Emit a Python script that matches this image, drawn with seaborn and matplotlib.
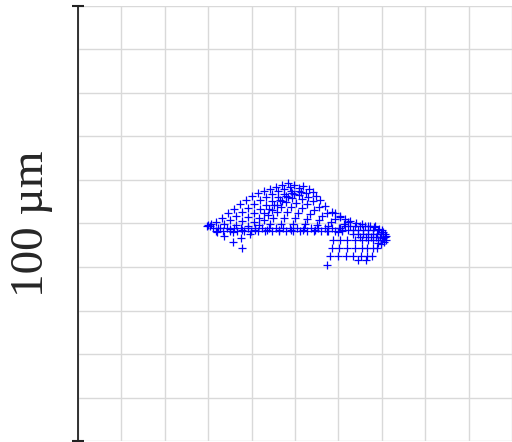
import numpy as np
import pandas as pd
import matplotlib
matplotlib.use("Agg")
import matplotlib.pyplot as plt
import seaborn as sns

# ---- data (µm) ----
# surface arcs (bottom -> top)
arc1_x = [30.4, 31.8, 33.2, 34.6, 35.9, 37.3, 38.7, 40.1, 41.5, 42.9, 44.2, 45.6, 47.0, 48.4]
arc1_y = [49.4, 50.3, 51.3, 52.4, 53.3, 54.5, 55.4, 56.3, 57.0, 57.5, 57.9, 58.4, 58.9, 59.3]
arc2_x = [32.3, 33.6, 35.0, 36.4, 37.8, 39.2, 40.6, 41.9, 43.3, 44.7, 46.1, 47.5, 48.8, 49.8]
arc2_y = [49.0, 49.9, 50.8, 51.7, 52.6, 53.6, 54.5, 55.4, 56.1, 56.8, 57.5, 57.9, 58.4, 58.9]
arc3_x = [35.0, 36.4, 37.8, 39.2, 40.6, 41.9, 43.3, 44.7, 46.1, 47.5, 49.1, 50.9]
arc3_y = [48.7, 49.7, 50.6, 51.5, 52.4, 53.3, 54.3, 55.2, 56.1, 56.8, 57.5, 58.2]
arc4_x = [37.8, 39.2, 40.6, 41.7, 42.9, 44.0, 45.2, 46.5, 47.9, 49.3, 50.9, 51.8]
arc4_y = [48.5, 49.4, 50.3, 51.3, 52.4, 53.3, 54.3, 55.4, 56.3, 57.0, 57.5, 58.6]
arc5_x = [40.8, 41.7, 42.9, 43.8, 44.7, 45.8, 47.0, 48.4, 49.8, 51.4, 53.2]
arc5_y = [48.5, 49.7, 50.8, 52.0, 53.1, 54.3, 55.2, 56.1, 56.8, 57.2, 57.9]
arc6_x = [43.5, 44.2, 44.9, 45.8, 46.8, 47.9, 49.3, 50.9, 52.5, 54.1]
arc6_y = [48.5, 49.9, 51.3, 52.6, 53.8, 54.9, 55.9, 56.6, 57.0, 57.2]
arc7_x = [46.3, 46.8, 47.5, 48.2, 49.1, 50.2, 51.6, 53.0, 54.8]
arc7_y = [48.5, 49.9, 51.3, 52.6, 53.8, 54.7, 55.6, 56.1, 56.3]
arc8_x = [49.1, 49.5, 50.0, 50.7, 51.6, 52.8, 54.1, 55.8]
arc8_y = [48.5, 49.9, 51.3, 52.4, 53.6, 54.5, 55.2, 55.4]
arc9_x = [51.8, 52.3, 52.8, 53.5, 54.4, 55.5, 56.9]
arc9_y = [48.5, 49.9, 51.0, 52.2, 53.1, 53.8, 54.1]
arc10_x = [54.6, 55.1, 55.5, 56.2, 57.4, 58.5]
arc10_y = [48.5, 49.7, 50.8, 51.7, 52.4, 52.6]
arc11_x = [57.4, 57.6, 58.3, 59.2, 60.4]
arc11_y = [48.3, 49.4, 50.3, 51.0, 51.5]
arc12_x = [59.9, 60.4, 61.3, 62.2]
arc12_y = [48.0, 49.0, 49.9, 50.3]

# bottom ridge
ridge1_x = [31.1, 32.7, 34.3, 35.9, 37.6, 39.2, 40.8, 42.4, 44.0, 45.6, 47.2, 48.8, 50.5, 52.1, 53.7, 55.3, 56.9, 58.5, 60.1]
ridge1_y = [49.0] * 19
ridge2_x = [31.8, 33.4, 35.0, 36.6, 38.2, 39.9, 41.5, 43.1, 44.7, 46.3, 47.9, 49.5, 51.1, 52.8, 54.4, 56.0, 57.6, 59.2, 60.8]
ridge2_y = [48.3] * 19

# right fold
band_x = [59.2, 60.4, 61.5, 62.7, 64.1, 65.4, 66.8, 68.2, 69.4, 70.3]
band_y = [52.4, 51.7, 51.0, 50.6, 50.1, 49.9, 49.4, 49.2, 48.7, 48.0]
fold1_x = [61.5, 62.7, 63.8, 65.0, 66.1, 67.3, 68.4]
fold1_y = [49.4] * 7
fold2_x = [60.8, 62.2, 63.4, 64.5, 65.7, 66.8, 68.0, 69.1, 70.0]
fold2_y = [48.5] * 9
fold3_x = [63.4, 64.5, 65.7, 66.8, 67.9, 68.9, 69.8, 70.7]
fold3_y = [47.6] * 8
fold4_x = [65.0, 66.3, 67.5, 68.6, 69.6, 70.7]
fold4_y = [46.9] * 6
tip_x = [70.3, 71.0, 70.5, 69.8, 71.0, 69.1, 30.0, 30.6, 29.7]
tip_y = [46.7, 46.2, 45.8, 45.3, 47.1, 45.5, 49.7, 49.9, 49.4]

# sparse lower rows
low1_x = [58.8, 60.4, 62.0, 63.8, 65.4, 66.8, 68.0, 69.1, 70.0]
low1_y = [46.2] * 9
low2_x = [58.5, 60.1, 62.0, 63.8, 65.4, 66.6, 68.0, 68.9]
low2_y = [44.4] * 8
low3_x = [58.1, 59.9, 61.7, 63.4, 65.2, 66.6, 67.7]
low3_y = [42.5] * 7
low4_x = [64.5, 66.4, 57.4]
low4_y = [41.6, 41.6, 40.5]
left_x = [32.0, 33.6, 35.7, 35.7, 37.6, 37.8, 39.6]
left_y = [48.0, 47.1, 48.0, 45.8, 46.7, 44.4, 47.6]

xs = (arc1_x + arc2_x + arc3_x + arc4_x + arc5_x + arc6_x + arc7_x + arc8_x + arc9_x
      + arc10_x + arc11_x + arc12_x + ridge1_x + ridge2_x + band_x + fold1_x + fold2_x
      + fold3_x + fold4_x + tip_x + low1_x + low2_x + low3_x + low4_x + left_x)
ys = (arc1_y + arc2_y + arc3_y + arc4_y + arc5_y + arc6_y + arc7_y + arc8_y + arc9_y
      + arc10_y + arc11_y + arc12_y + ridge1_y + ridge2_y + band_y + fold1_y + fold2_y
      + fold3_y + fold4_y + tip_y + low1_y + low2_y + low3_y + low4_y + left_y)
df = pd.DataFrame({"x": xs, "y": ys})

sns.set_theme(style="white")
plt.rcParams["font.family"] = ["Liberation Serif", "DejaVu Serif"]

fig = plt.figure(figsize=(5.12, 4.42), dpi=100)
ax = fig.add_axes([78 / 512, 1 / 442, 434 / 512, 435 / 442])

sns.scatterplot(data=df, x="x", y="y", marker="+", color="#0000ff", s=26,
                linewidth=0.9, ax=ax, legend=False)

ax.set_xlim(0, 100)
ax.set_ylim(0, 100)
ax.set_xticks(np.arange(0, 101, 10))
ax.set_yticks([0, 100])
ax.set_yticks(np.arange(10, 100, 10), minor=True)
ax.set_xticklabels([])
ax.set_yticklabels([])
ax.grid(True, which="both", color="#d9d9d9", linewidth=1.0)
ax.set_axisbelow(True)
ax.tick_params(axis="x", length=0)
ax.tick_params(axis="y", which="major", left=True, direction="inout", length=8,
               width=1.5, color="#222222")
ax.tick_params(axis="y", which="minor", left=False, length=0)
for s in ["top", "right", "bottom"]:
    ax.spines[s].set_visible(False)
ax.spines["left"].set_color("#222222")
ax.spines["left"].set_linewidth(1.3)
ax.set_xlabel("")
ax.set_ylabel("100 µm", fontsize=34)
ax.yaxis.set_label_coords(-0.058, 0.5)

fig.savefig("out.png", dpi=100)
